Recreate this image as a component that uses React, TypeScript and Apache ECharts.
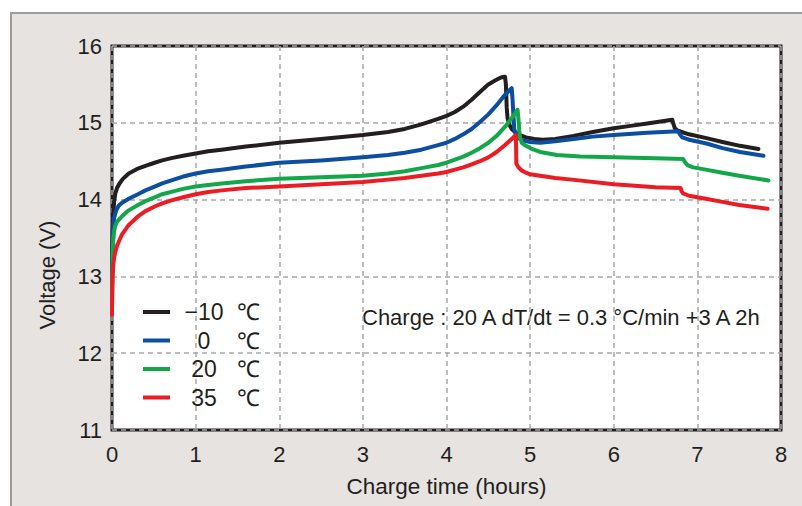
import React, { useEffect, useRef } from "react";
import * as echarts from "echarts";

const seriesNames = ["−10 ℃", "0 ℃", "20 ℃", "35 ℃"];
const seriesColors = ["#231f20", "#0b4ea2", "#13a74a", "#ec1c24"];

const minus10: [number, number][] = [
  [0, 12.9], [0.003, 13.3], [0.008, 13.6], [0.015, 13.8], [0.025, 13.97], [0.04, 14.08],
  [0.06, 14.15], [0.09, 14.21], [0.13, 14.27], [0.2, 14.34], [0.3, 14.4], [0.4, 14.44],
  [0.51, 14.48], [0.6, 14.51], [0.71, 14.54], [0.85, 14.57], [1.0, 14.6], [1.15, 14.63],
  [1.31, 14.65], [1.6, 14.69], [2.0, 14.74], [2.5, 14.79], [3.0, 14.84], [3.3, 14.88],
  [3.5, 14.92], [3.7, 14.98], [3.9, 15.05], [4.0, 15.09], [4.1, 15.14], [4.2, 15.21],
  [4.3, 15.3], [4.4, 15.4], [4.5, 15.5], [4.58, 15.55], [4.65, 15.59], [4.7, 15.6],
  [4.71, 15.5], [4.72, 15.2], [4.73, 15.06], [4.75, 14.98], [4.78, 14.92], [4.82, 14.88],
  [4.88, 14.84], [4.95, 14.81], [5.05, 14.79], [5.15, 14.78], [5.3, 14.79], [5.52, 14.83],
  [5.75, 14.88], [6.0, 14.93], [6.2, 14.96], [6.4, 14.99], [6.7, 15.04], [6.71, 15.0],
  [6.73, 14.93], [6.76, 14.9], [6.9, 14.85], [7.11, 14.8], [7.3, 14.75], [7.51, 14.7],
  [7.73, 14.66],
];

const zero: [number, number][] = [
  [0, 12.7], [0.003, 13.1], [0.008, 13.45], [0.015, 13.65], [0.025, 13.76], [0.05, 13.86],
  [0.08, 13.92], [0.12, 13.96], [0.2, 14.01], [0.31, 14.07], [0.4, 14.12], [0.51, 14.17],
  [0.6, 14.21], [0.71, 14.25], [0.85, 14.3], [1.0, 14.34], [1.15, 14.37], [1.31, 14.39],
  [1.6, 14.43], [2.0, 14.48], [2.5, 14.51], [3.0, 14.55], [3.3, 14.58], [3.5, 14.61],
  [3.7, 14.65], [3.9, 14.71], [4.0, 14.74], [4.1, 14.79], [4.2, 14.85], [4.3, 14.92],
  [4.4, 15.01], [4.5, 15.11], [4.6, 15.23], [4.68, 15.34], [4.74, 15.41], [4.78, 15.45],
  [4.79, 15.3], [4.8, 15.1], [4.81, 14.92], [4.83, 14.84], [4.86, 14.8], [4.92, 14.77],
  [5.0, 14.75], [5.12, 14.74], [5.3, 14.76], [5.52, 14.79], [5.75, 14.82], [6.0, 14.84],
  [6.4, 14.87], [6.77, 14.89], [6.79, 14.85], [6.82, 14.81], [6.9, 14.78], [7.11, 14.73],
  [7.3, 14.67], [7.51, 14.62], [7.79, 14.57],
];

const twenty: [number, number][] = [
  [0, 12.6], [0.003, 13.0], [0.008, 13.3], [0.015, 13.47], [0.025, 13.58], [0.036, 13.65],
  [0.06, 13.71], [0.116, 13.78], [0.2, 13.86], [0.31, 13.93], [0.4, 13.98], [0.51, 14.03],
  [0.6, 14.07], [0.71, 14.1], [0.85, 14.14], [1.0, 14.17], [1.15, 14.19], [1.31, 14.21],
  [1.6, 14.24], [2.0, 14.27], [2.5, 14.29], [3.0, 14.31], [3.3, 14.34], [3.5, 14.37],
  [3.7, 14.41], [3.9, 14.45], [4.0, 14.48], [4.1, 14.52], [4.2, 14.56], [4.3, 14.61],
  [4.4, 14.67], [4.5, 14.74], [4.6, 14.83], [4.7, 14.95], [4.78, 15.06], [4.85, 15.17],
  [4.86, 15.05], [4.87, 14.9], [4.88, 14.8], [4.9, 14.74], [4.95, 14.7], [5.02, 14.66],
  [5.12, 14.62], [5.32, 14.58], [5.6, 14.56], [6.0, 14.55], [6.5, 14.54], [6.83, 14.53],
  [6.85, 14.49], [6.88, 14.45], [6.95, 14.42], [7.1, 14.39], [7.3, 14.35], [7.5, 14.31],
  [7.85, 14.25],
];

const thirtyFive: [number, number][] = [
  [0, 12.5], [0.003, 12.8], [0.008, 13.02], [0.015, 13.15], [0.025, 13.24], [0.036, 13.3],
  [0.06, 13.4], [0.116, 13.54], [0.2, 13.67], [0.31, 13.78], [0.4, 13.85], [0.51, 13.91],
  [0.6, 13.95], [0.71, 13.99], [0.85, 14.03], [1.0, 14.07], [1.15, 14.1], [1.31, 14.12],
  [1.6, 14.15], [2.0, 14.17], [2.5, 14.2], [3.0, 14.23], [3.3, 14.26], [3.5, 14.28],
  [3.7, 14.31], [3.9, 14.34], [4.0, 14.36], [4.1, 14.39], [4.2, 14.42], [4.3, 14.46],
  [4.4, 14.5], [4.5, 14.55], [4.6, 14.62], [4.7, 14.71], [4.77, 14.78], [4.83, 14.84],
  [4.835, 14.47], [4.86, 14.42], [4.9, 14.38], [4.95, 14.35], [5.0, 14.33], [5.12, 14.31],
  [5.3, 14.28], [5.5, 14.26], [6.0, 14.2], [6.5, 14.16], [6.8, 14.15], [6.81, 14.11],
  [6.83, 14.08], [6.9, 14.05], [7.1, 14.01], [7.3, 13.97], [7.5, 13.93], [7.84, 13.88],
];

const seriesData = [minus10, zero, twenty, thirtyFive];

const xTicks = { min: 0, max: 8, interval: 1 };
const yTicks = { min: 11, max: 16, interval: 1 };

const xAxisTitle = "Charge time (hours)";
const yAxisTitle = "Voltage (V)";
const noteText = "Charge : 20 A dT/dt = 0.3 °C/min +3 A 2h";

const FONT = "'Liberation Sans', Arial, Helvetica, sans-serif";
const INK = "#231f20";

export default function App() {
  const ref = useRef<HTMLDivElement>(null);

  useEffect(() => {
    if (!ref.current) return;
    const chart = echarts.init(ref.current, undefined, { renderer: "svg" });
    chart.setOption({
      animation: false,
      backgroundColor: "transparent",
      textStyle: { fontFamily: FONT, color: INK },
      grid: {
        left: 112,
        top: 46,
        right: 21,
        bottom: 76,
        show: true,
        backgroundColor: "#ffffff",
        borderColor: INK,
        borderWidth: 3,
      },
      xAxis: {
        type: "value",
        min: xTicks.min,
        max: xTicks.max,
        interval: xTicks.interval,
        name: xAxisTitle,
        nameLocation: "middle",
        nameGap: 45,
        nameTextStyle: { fontSize: 22.5, color: INK, fontFamily: FONT },
        axisLine: { show: false },
        axisTick: { show: false },
        axisLabel: { fontSize: 22, color: INK, margin: 13, fontFamily: FONT },
        splitLine: {
          show: true,
          lineStyle: { color: "#a8a8a8", width: 1.5, type: [5, 4] },
        },
      },
      yAxis: {
        type: "value",
        min: yTicks.min,
        max: yTicks.max,
        interval: yTicks.interval,
        axisLine: { show: false },
        axisTick: { show: false },
        axisLabel: { fontSize: 22, color: INK, margin: 10, fontFamily: FONT },
        splitLine: {
          show: true,
          lineStyle: { color: "#a8a8a8", width: 1.5, type: [5, 4] },
        },
      },
      legend: {
        orient: "vertical",
        left: 143,
        top: 298,
        padding: 0,
        icon: "rect",
        itemWidth: 27,
        itemHeight: 4,
        itemGap: 0.5,
        data: seriesNames,
        formatter: (name: string) => {
          const parts = name.split(" ");
          return `{n|${parts[0]}}{u|${parts[1]}}`;
        },
        textStyle: {
          fontSize: 23,
          lineHeight: 28,
          color: INK,
          fontFamily: FONT,
          rich: {
            n: { width: 58, align: "right", fontSize: 23, lineHeight: 28, color: INK, fontFamily: FONT },
            u: { fontSize: 23, lineHeight: 28, color: INK, fontFamily: FONT, padding: [0, 0, 0, 4] },
          },
        },
      },
      graphic: [
        {
          type: "text",
          x: 362,
          y: 317,
          style: {
            text: noteText,
            fontSize: 22,
            fontFamily: FONT,
            fill: INK,
            align: "left",
            verticalAlign: "middle",
          },
        },
        {
          type: "text",
          x: 47,
          y: 275,
          rotation: Math.PI / 2,
          style: {
            text: yAxisTitle,
            fontSize: 22,
            fontFamily: FONT,
            fill: INK,
            align: "center",
            verticalAlign: "middle",
          },
        },
      ],
      series: seriesNames.map((name, i) => ({
        name,
        type: "line",
        data: seriesData[i],
        showSymbol: false,
        symbol: "none",
        smooth: false,
        color: seriesColors[i],
        lineStyle: { color: seriesColors[i], width: 4, join: "round", cap: "round" },
      })),
    });
    return () => chart.dispose();
  }, []);

  return (
    <div style={{ position: "fixed", left: 0, top: 0, width: 802, height: 506, background: "#ffffff" }}>
      <div
        style={{
          position: "absolute",
          left: 10,
          top: 12,
          width: 792,
          height: 494,
          background: "#e6e3e0",
          borderLeft: "2px solid #9d9d9d",
          borderTop: "2px solid #9d9d9d",
          boxSizing: "border-box",
        }}
      />
      <div ref={ref} style={{ position: "absolute", left: 0, top: 0, width: 802, height: 506 }} />
    </div>
  );
}
